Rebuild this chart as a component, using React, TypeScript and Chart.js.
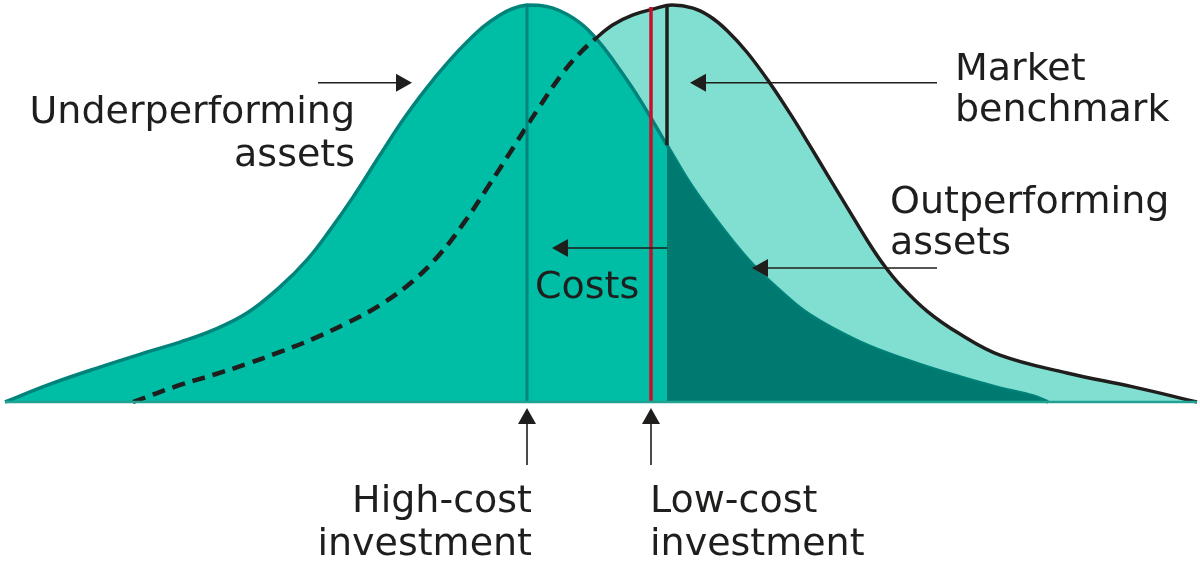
import React, { useEffect, useRef } from "react";
import { Chart, registerables } from "chart.js";

Chart.register(...registerables);

// x: relative return (benchmark mean = 0), y: relative frequency (peak = 1)
const highCostX = [-6.62, -6.17, -5.67, -5.17, -4.87, -4.54, -4.2, -3.87, -3.6, -3.37, -3.14, -2.87, -2.62, -2.34, -2.0, -1.67, -1.4, -1.14, -0.87, -0.67, -0.47, -0.27, 0.0, 0.26, 0.6, 0.86, 1.1, 1.43, 1.93, 2.43, 2.93, 3.33, 3.66, 3.81];
const highCostY = [0, 0.045, 0.088, 0.128, 0.151, 0.181, 0.224, 0.29, 0.358, 0.433, 0.516, 0.622, 0.718, 0.811, 0.907, 0.975, 1.0, 0.992, 0.955, 0.904, 0.836, 0.761, 0.647, 0.539, 0.423, 0.345, 0.287, 0.219, 0.151, 0.103, 0.063, 0.035, 0.015, 0];

const benchmarkX = [-5.34, -4.87, -4.54, -4.2, -3.87, -3.54, -3.2, -2.87, -2.54, -2.27, -2.04, -1.79, -1.54, -1.29, -1.05, -0.87, -0.72, -0.54, -0.34, -0.12, 0.05, 0.26, 0.43, 0.6, 0.8, 1.03, 1.26, 1.43, 1.6, 1.8, 2.0, 2.16, 2.33, 2.6, 2.93, 3.33, 4.0, 4.66, 5.3];
const benchmarkY = [0, 0.043, 0.068, 0.096, 0.126, 0.159, 0.199, 0.244, 0.305, 0.373, 0.448, 0.542, 0.64, 0.738, 0.826, 0.879, 0.914, 0.95, 0.975, 0.991, 1.0, 0.992, 0.971, 0.936, 0.881, 0.803, 0.715, 0.645, 0.574, 0.491, 0.408, 0.348, 0.295, 0.229, 0.171, 0.118, 0.073, 0.038, 0];

const highCostMean = -1.4;
const lowCostMean = -0.16;
const benchmarkMean = 0;
const benchmarkLineFrom = 0.647; // where the benchmark marker meets the high-cost curve
const hiddenUntilX = -0.72; // benchmark curve hidden (dashed) left of this

const labelTexts = ["Underperforming", "assets", "Market", "benchmark", "Outperforming", "assets", "Costs", "High-cost", "investment", "Low-cost", "investment"];
const labelX = [-3.12, -3.12, 2.88, 2.88, 2.23, 2.23, -1.32, -1.35, -1.35, -0.17, -0.17];
const labelY = [0.703, 0.594, 0.811, 0.708, 0.476, 0.373, 0.262, -0.277, -0.385, -0.277, -0.385];
const labelAlign = ["right", "right", "left", "left", "left", "left", "left", "right", "right", "left", "left"];

const arrowFromX = [-3.49, 2.7, 2.7, 0.0, -1.4, -0.16];
const arrowFromY = [0.804, 0.804, 0.3375, 0.388, -0.159, -0.159];
const arrowToX = [-2.55, 0.23, 0.85, -1.15, -1.4, -0.16];
const arrowToY = [0.804, 0.804, 0.3375, 0.388, -0.015, -0.015];

const TEAL = "#00BDA5";
const LIGHT = "#80DFD0";
const DARK = "#007A70";
const OUTLINE = "#00837A";
const RED = "#C8102E";
const INK = "#1F1E1D";
const BASE = "#22A293";

const pts = (xs: number[], ys: number[]) => xs.map((x, i) => ({ x, y: ys[i] }));

const annotPlugin = {
  id: "annot",
  afterDatasetsDraw(chart: any) {
    const { ctx } = chart;
    const xs = chart.scales.x;
    const ys = chart.scales.y;
    ctx.save();
    ctx.strokeStyle = INK;
    ctx.fillStyle = INK;
    ctx.lineWidth = 1.6;
    for (let i = 0; i < arrowFromX.length; i++) {
      const x0 = xs.getPixelForValue(arrowFromX[i]);
      const y0 = ys.getPixelForValue(arrowFromY[i]);
      const x1 = xs.getPixelForValue(arrowToX[i]);
      const y1 = ys.getPixelForValue(arrowToY[i]);
      const a = Math.atan2(y1 - y0, x1 - x0);
      const hl = 16;
      const hw = 9;
      const bx = x1 - hl * Math.cos(a);
      const by = y1 - hl * Math.sin(a);
      ctx.beginPath();
      ctx.moveTo(x0, y0);
      ctx.lineTo(bx, by);
      ctx.stroke();
      ctx.beginPath();
      ctx.moveTo(x1, y1);
      ctx.lineTo(bx - hw * Math.sin(a), by + hw * Math.cos(a));
      ctx.lineTo(bx + hw * Math.sin(a), by - hw * Math.cos(a));
      ctx.closePath();
      ctx.fill();
    }
    ctx.font = '38px "DejaVu Sans"';
    ctx.textBaseline = "alphabetic";
    for (let i = 0; i < labelTexts.length; i++) {
      ctx.textAlign = labelAlign[i];
      ctx.fillText(labelTexts[i], xs.getPixelForValue(labelX[i]), ys.getPixelForValue(labelY[i]));
    }
    ctx.restore();
  },
};

export default function App() {
  const ref = useRef<HTMLCanvasElement>(null);
  useEffect(() => {
    if (!ref.current) return;
    const highCost = pts(highCostX, highCostY);
    const benchmark = pts(benchmarkX, benchmarkY);
    const darkRegion = highCost.filter((p) => p.x >= benchmarkMean);
    const common = { pointRadius: 0, tension: 0.4, clip: false as const };
    const chart = new Chart(ref.current, {
      type: "line",
      data: {
        datasets: [
          { ...common, data: benchmark, fill: "origin", backgroundColor: LIGHT, borderWidth: 0, order: 10 },
          { ...common, data: highCost, fill: "origin", backgroundColor: TEAL, borderColor: OUTLINE, borderWidth: 3.5, order: 9 },
          { ...common, data: darkRegion, fill: "origin", backgroundColor: DARK, borderWidth: 0, order: 8 },
          {
            ...common,
            data: benchmark,
            fill: false,
            borderColor: INK,
            borderWidth: 3.5,
            order: 7,
            segment: {
              borderDash: (c: any) => (c.p1.parsed.x <= hiddenUntilX ? [13, 8] : undefined),
              borderWidth: (c: any) => (c.p1.parsed.x <= hiddenUntilX ? 4.5 : 3.5),
            },
          },
          { ...common, data: [{ x: highCostMean, y: 0 }, { x: highCostMean, y: 1 }], fill: false, borderColor: OUTLINE, borderWidth: 3, order: 6 },
          { ...common, data: [{ x: lowCostMean, y: 0 }, { x: lowCostMean, y: 0.995 }], fill: false, borderColor: RED, borderWidth: 3.5, order: 5 },
          { ...common, data: [{ x: benchmarkMean, y: benchmarkLineFrom }, { x: benchmarkMean, y: 1 }], fill: false, borderColor: INK, borderWidth: 3.5, order: 4 },
          { ...common, data: [{ x: -6.62, y: 0 }, { x: 5.3, y: 0 }], fill: false, borderColor: BASE, borderWidth: 2.5, order: 3 },
        ],
      },
      options: {
        animation: false,
        responsive: false,
        events: [],
        layout: { padding: { top: 5, bottom: 162, left: 0, right: 0 } },
        plugins: { legend: { display: false }, tooltip: { enabled: false } },
        scales: {
          x: { type: "linear", min: -6.67, max: 5.33, display: false },
          y: { type: "linear", min: 0, max: 1, display: false },
        },
      },
      plugins: [annotPlugin],
    });
    return () => chart.destroy();
  }, []);
  return (
    <canvas
      ref={ref}
      width={1200}
      height={564}
      style={{ position: "absolute", left: 0, top: 0, width: 1200, height: 564, display: "block" }}
    />
  );
}
